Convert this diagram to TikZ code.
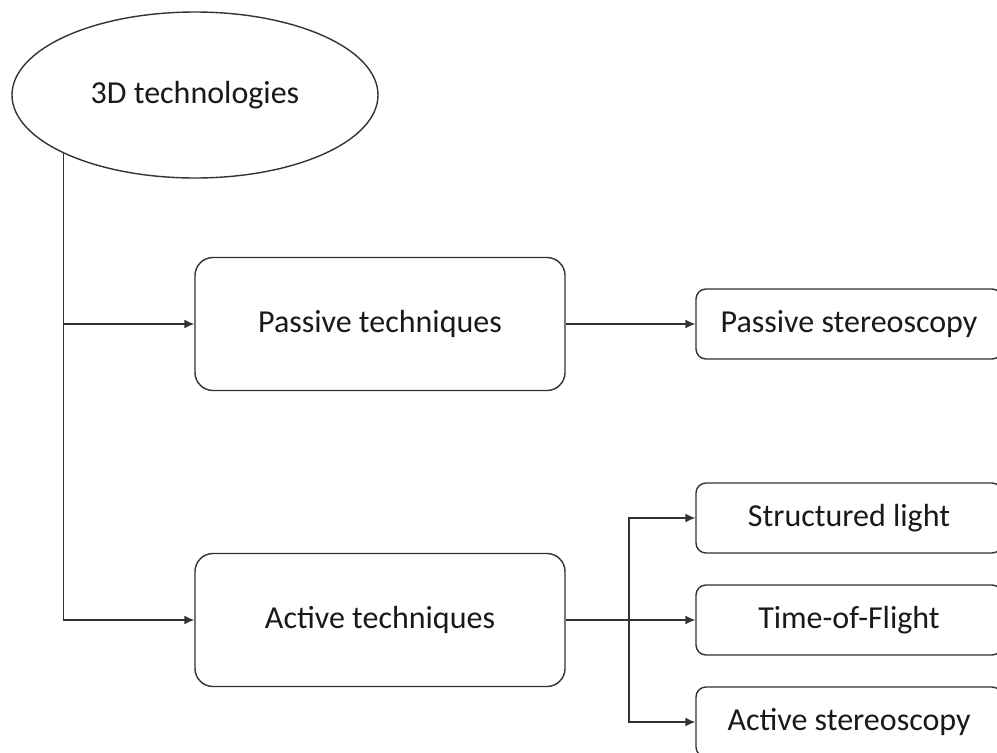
\documentclass[tikz,border=0pt]{standalone}
\usepackage{fontspec}
\setmainfont{Carlito}
\usetikzlibrary{shapes.geometric,arrows.meta}
\begin{document}
\begin{tikzpicture}[x=1pt,y=-1pt,
  every node/.style={font=\fontsize{32}{38}\selectfont, text=black!90},
  line/.style={draw=black!80, line width=1.4pt},
  arr/.style={line, -{Latex[length=10pt,width=9pt]}},
  root/.style={ellipse, line, minimum width=366pt, minimum height=166pt, inner sep=0pt},
  mainbox/.style={rectangle, rounded corners=18pt, line, minimum width=370pt, minimum height=133pt},
  leafbox/.style={rectangle, rounded corners=10pt, line, minimum width=306pt, minimum height=70pt}
]
\useasboundingbox (0,0) rectangle (997,753);
\clip (0,0) rectangle (997,753);
\node[root] (root) at (195,95) {3D technologies};
\node[mainbox] (passive) at (380,324) {Passive techniques};
\node[mainbox] (active) at (380,620) {Active techniques};
\node[leafbox] (pst) at (849,324) {Passive stereoscopy};
\node[leafbox] (sl) at (849,518) {Structured light};
\node[leafbox] (tof) at (849,620) {Time-of-Flight};
\node[leafbox] (ast) at (849,722) {Active stereoscopy};
\coordinate (trunk) at (root.204);
\coordinate (split) at (629,620);
\draw[arr] (trunk) |- (passive.west);
\draw[arr] (trunk) |- (active.west);
\draw[arr] (passive.east) -- (pst.west);
\draw[arr] (active.east) -- (tof.west);
\draw[arr] (split) |- (sl.west);
\draw[arr] (split) |- (ast.west);
\end{tikzpicture}
\end{document}
